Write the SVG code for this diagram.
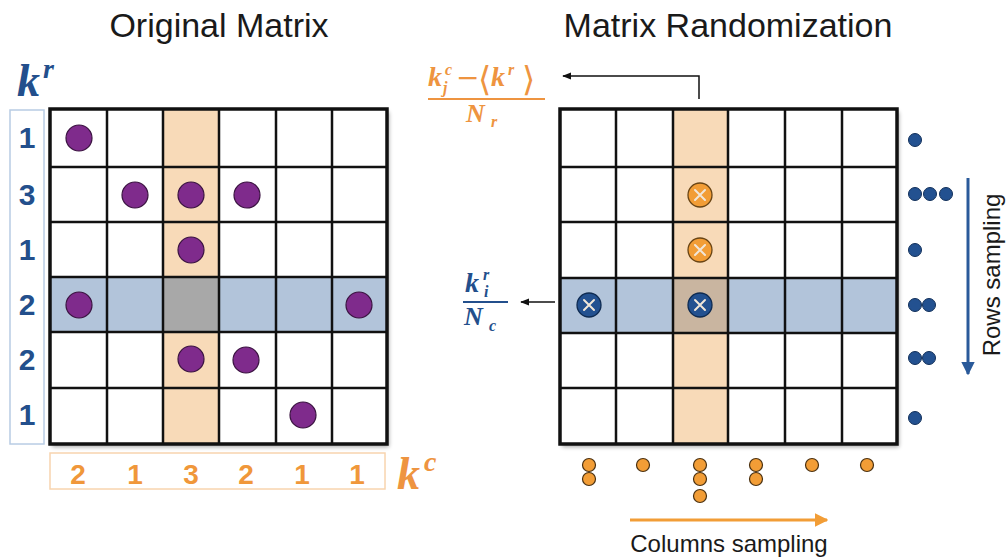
<svg xmlns="http://www.w3.org/2000/svg" width="1006" height="558" viewBox="0 0 1006 558">
<defs>
<style>
.title{font-family:"Liberation Sans",Arial,sans-serif;font-size:34px;fill:#1a1a1a;text-anchor:middle}
.lbl{font-family:"Liberation Sans",Arial,sans-serif;font-size:24px;fill:#1a1a1a;text-anchor:middle}
.rnum{font-family:"Liberation Sans",Arial,sans-serif;font-size:30px;font-weight:bold;fill:#234f8c;text-anchor:middle}
.cnum{font-family:"Liberation Sans",Arial,sans-serif;font-size:28px;font-weight:bold;fill:#f0973a;text-anchor:middle}
.math{font-family:"Liberation Serif","DejaVu Serif",serif;font-style:italic;font-weight:bold}
.up{font-family:"DejaVu Serif","Liberation Serif",serif;font-style:normal;font-weight:normal}
.mb{fill:#234f8c}
.mo{fill:#ee9440}
.grid{fill:none;stroke:#111;stroke-width:2.5}
.border{fill:none;stroke:#111;stroke-width:3.5}
.purple{fill:#7f2b8c;stroke:#3a1340;stroke-width:1.2}
.bdot{fill:#235190;stroke:#12305a;stroke-width:1}
.odot{fill:#f29d36;stroke:#4a3010;stroke-width:1.2}
.xo{fill:#f29d36;stroke:#6a4515;stroke-width:1.3}
.xb{fill:#235190;stroke:#0e2b52;stroke-width:1.3}
.xl{stroke:#f1e6d8;stroke-width:2;stroke-linecap:round}
</style>
<marker id="ah" viewBox="0 0 10 10" refX="9" refY="5" markerWidth="6" markerHeight="6" orient="auto" markerUnits="strokeWidth">
<path d="M0,1 L10,5 L0,9 z" fill="#111"/>
</marker>
<marker id="ahb" viewBox="0 0 10 10" refX="9" refY="5" markerWidth="4.5" markerHeight="4.5" orient="auto" markerUnits="strokeWidth">
<path d="M0,0 L10,5 L0,10 z" fill="#2a5a9a"/>
</marker>
<marker id="aho" viewBox="0 0 10 10" refX="9" refY="5" markerWidth="4.5" markerHeight="4.5" orient="auto" markerUnits="strokeWidth">
<path d="M0,0 L10,5 L0,10 z" fill="#f29d36"/>
</marker>
<filter id="sh" x="-5%" y="-5%" width="115%" height="115%">
<feGaussianBlur in="SourceAlpha" stdDeviation="2"/>
<feOffset dx="2" dy="3"/>
<feComponentTransfer><feFuncA type="linear" slope="0.35"/></feComponentTransfer>
<feMerge><feMergeNode/><feMergeNode in="SourceGraphic"/></feMerge>
</filter>
</defs>
<rect width="1006" height="558" fill="#fff"/>

<g id="titles">
<text class="title" x="219" y="37">Original Matrix</text>
<text class="title" x="728" y="37">Matrix Randomization</text>
</g>

<g id="left-matrix">
<g filter="url(#sh)">
<rect x="50" y="109" width="337" height="335" fill="#fff"/>
</g>
<rect x="163" y="109" width="56" height="335" fill="#f8dab8"/>
<rect x="50" y="277" width="337" height="55" fill="#b2c4da"/>
<rect x="163" y="277" width="56" height="55" fill="#a8a8a8"/>
<path class="grid" d="M107,109V444M163,109V444M219,109V444M276,109V444M332,109V444M50,167H387M50,222H387M50,277H387M50,332H387M50,388H387"/>
<rect class="border" x="50" y="109" width="337" height="335"/>
<circle class="purple" cx="79" cy="138" r="13"/>
<circle class="purple" cx="135" cy="195" r="13"/>
<circle class="purple" cx="191" cy="195" r="13"/>
<circle class="purple" cx="247" cy="195" r="13"/>
<circle class="purple" cx="191" cy="250" r="13"/>
<circle class="purple" cx="79" cy="305" r="13"/>
<circle class="purple" cx="359" cy="305" r="13"/>
<circle class="purple" cx="191" cy="359" r="13"/>
<circle class="purple" cx="246" cy="360" r="13"/>
<circle class="purple" cx="303" cy="415" r="13"/>
</g>

<g id="row-degrees">
<rect x="10" y="110" width="34" height="334" fill="none" stroke="#b8cce4" stroke-width="1.5"/>
<text class="rnum" x="27" y="148">1</text>
<text class="rnum" x="27" y="205">3</text>
<text class="rnum" x="27" y="260">1</text>
<text class="rnum" x="27" y="315">2</text>
<text class="rnum" x="27" y="370">2</text>
<text class="rnum" x="27" y="425">1</text>
<text class="math mb" x="17" y="96" font-size="46">k</text>
<text class="math mb" x="43" y="78" font-size="28">r</text>
</g>

<g id="col-degrees">
<rect x="50" y="453" width="335" height="36" fill="none" stroke="#f8d4ae" stroke-width="1.5"/>
<text class="cnum" x="78" y="484">2</text>
<text class="cnum" x="135" y="484">1</text>
<text class="cnum" x="191" y="484">3</text>
<text class="cnum" x="246" y="484">2</text>
<text class="cnum" x="302" y="484">1</text>
<text class="cnum" x="357" y="484">1</text>
<text class="math mo" x="397" y="489" font-size="46">k</text>
<text class="math mo" x="424" y="471" font-size="28">c</text>
</g>

<g id="right-matrix">
<g filter="url(#sh)">
<rect x="560" y="109" width="337" height="335" fill="#fff"/>
</g>
<rect x="673" y="109" width="55" height="335" fill="#f8dab8"/>
<rect x="560" y="278" width="337" height="55" fill="#b2c4da"/>
<rect x="673" y="278" width="55" height="55" fill="#c9b5a0"/>
<path class="grid" d="M616,109V444M673,109V444M728,109V444M785,109V444M842,109V444M560,167H897M560,222H897M560,278H897M560,333H897M560,388H897"/>
<rect class="border" x="560" y="109" width="337" height="335"/>
<g>
<circle class="xo" cx="700" cy="195" r="12"/>
<path class="xl" d="M695,190L705,200M705,190L695,200"/>
<circle class="xo" cx="700" cy="250" r="12"/>
<path class="xl" d="M695,245L705,255M705,245L695,255"/>
<circle class="xb" cx="589" cy="305" r="12"/>
<path class="xl" d="M584,300L594,310M594,300L584,310"/>
<circle class="xb" cx="700" cy="305" r="12"/>
<path class="xl" d="M695,300L705,310M705,300L695,310"/>
</g>
</g>

<g id="row-samples">
<circle class="bdot" cx="915" cy="140" r="6.5"/>
<circle class="bdot" cx="915" cy="194" r="6.5"/>
<circle class="bdot" cx="930" cy="194" r="6.5"/>
<circle class="bdot" cx="946" cy="194" r="6.5"/>
<circle class="bdot" cx="915" cy="250" r="6.5"/>
<circle class="bdot" cx="915" cy="305" r="6.5"/>
<circle class="bdot" cx="929" cy="305" r="6.5"/>
<circle class="bdot" cx="915" cy="358" r="6.5"/>
<circle class="bdot" cx="929" cy="358" r="6.5"/>
<circle class="bdot" cx="915" cy="418" r="6.5"/>
<text class="lbl" transform="translate(1000,275) rotate(-90)">Rows sampling</text>
</g>

<g id="col-samples">
<circle class="odot" cx="589" cy="465" r="6.5"/>
<circle class="odot" cx="589" cy="479" r="6.5"/>
<circle class="odot" cx="643" cy="465" r="6.5"/>
<circle class="odot" cx="700" cy="465" r="6.5"/>
<circle class="odot" cx="700" cy="479" r="6.5"/>
<circle class="odot" cx="700" cy="496" r="6.5"/>
<circle class="odot" cx="756" cy="465" r="6.5"/>
<circle class="odot" cx="756" cy="479" r="6.5"/>
<circle class="odot" cx="812" cy="465" r="6.5"/>
<circle class="odot" cx="867" cy="465" r="6.5"/>
<text class="lbl" x="729" y="552">Columns sampling</text>
</g>

<g id="formula-col">
<text class="math mo" x="428" y="86" font-size="28">k</text>
<text class="math mo" x="445" y="75" font-size="16">c</text>
<text class="math mo" x="443" y="93" font-size="16">j</text>
<text class="mo up" x="456" y="87" font-size="28">−</text>
<text class="mo up" x="478" y="91" font-size="34">⟨</text>
<text class="math mo" x="491" y="86" font-size="28">k</text>
<text class="math mo" x="508" y="75" font-size="16">r</text>
<text class="mo up" x="522" y="91" font-size="34">⟩</text>
<line x1="428" y1="99" x2="545" y2="99" stroke="#ee9440" stroke-width="2"/>
<text class="math mo" x="466" y="122" font-size="26">N</text>
<text class="math mo" x="491" y="127" font-size="16">r</text>
</g>

<g id="formula-row">
<text class="math mb" x="465" y="292" font-size="28">k</text>
<text class="math mb" x="483" y="280" font-size="16">r</text>
<text class="math mb" x="484" y="297" font-size="16">i</text>
<line x1="463" y1="302" x2="508" y2="302" stroke="#234f8c" stroke-width="2"/>
<text class="math mb" x="464" y="325" font-size="26">N</text>
<text class="math mb" x="489" y="331" font-size="16">c</text>
</g>

<g id="connectors">
<path d="M699,99V76H563" fill="none" stroke="#111" stroke-width="1.5" marker-end="url(#ah)"/>
<path d="M555,302H521" fill="none" stroke="#111" stroke-width="1.5" marker-end="url(#ah)"/>
<path d="M968,178V374" fill="none" stroke="#2a5a9a" stroke-width="3" marker-end="url(#ahb)"/>
<path d="M630,520H827" fill="none" stroke="#f29d36" stroke-width="3" marker-end="url(#aho)"/>
</g>
</svg>
